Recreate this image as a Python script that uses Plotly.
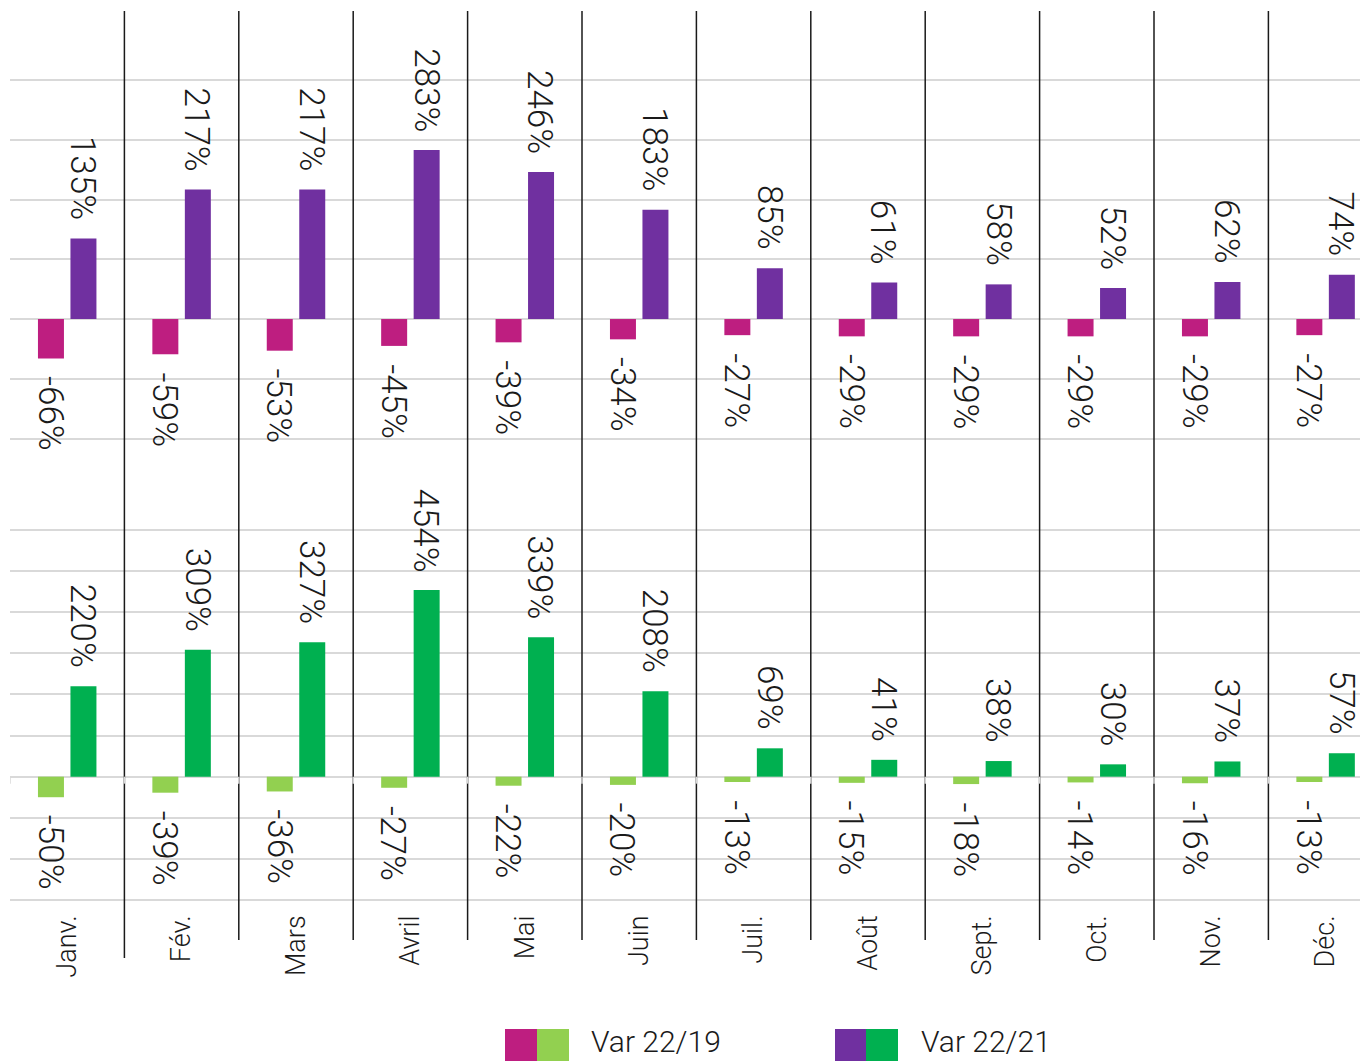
import plotly.graph_objects as go

# ---------------- data ----------------
months = ["Janv.", "Fév.", "Mars", "Avril", "Mai", "Juin",
          "Juil.", "Août", "Sept.", "Oct.", "Nov.", "Déc."]
top_var_22_19 = [-66, -59, -53, -45, -39, -34, -27, -29, -29, -29, -29, -27]
top_var_22_21 = [135, 217, 217, 283, 246, 183, 85, 61, 58, 52, 62, 74]
bottom_var_22_19 = [-50, -39, -36, -27, -22, -20, -13, -15, -18, -14, -16, -13]
bottom_var_22_21 = [220, 309, 327, 454, 339, 208, 69, 41, 38, 30, 37, 57]
top_gridlines = [-200, -100, 0, 100, 200, 300, 400]
bottom_gridlines = [-300, -200, -100, 0, 100, 200, 300, 400, 500, 600]
legend_labels = ["Var 22/19", "Var 22/21"]

# ---------------- style ----------------
MAGENTA = "#BE1E80"
PURPLE = "#7030A0"
LIGHT_GREEN = "#92D050"
GREEN = "#00B050"
GRID = "#d9d9d9"
TEXT = "#1a1a1a"
FONT = "Roboto, Noto Sans, sans-serif"
W, H = 1368, 1061
OFF = 8            # page body margin offset in the browser
L_MARGIN = 10 - OFF
CAT_W = 114.4      # px per category


def py(pixel_y):
    """Screen pixel y -> paper y."""
    return 1 - (pixel_y - OFF) / H


def px(pixel_x):
    """Screen pixel x -> paper x."""
    return (pixel_x - OFF - L_MARGIN) / (W - L_MARGIN)


fig = go.Figure()

panels = [
    ("x", "y", top_var_22_19, top_var_22_21, MAGENTA, PURPLE),
    ("x2", "y2", bottom_var_22_19, bottom_var_22_21, LIGHT_GREEN, GREEN),
]
for xa, ya, s19, s21, c19, c21 in panels:
    fig.add_trace(go.Bar(x=months, y=s19, xaxis=xa, yaxis=ya, name=legend_labels[0],
                         marker=dict(color=c19, line=dict(width=0))))
    fig.add_trace(go.Bar(x=months, y=s21, xaxis=xa, yaxis=ya, name=legend_labels[1],
                         marker=dict(color=c21, line=dict(width=0))))

# value labels (rotated)
annotations = []
BAR_OFFSET = 16.25
for xa, ya, s19, s21, _, _ in panels:
    for series, shift in ((s19, -BAR_OFFSET), (s21, BAR_OFFSET)):
        for m, v in zip(months, series):
            annotations.append(dict(
                x=m, y=v, xref=xa, yref=ya, text=f"{v}%", showarrow=False,
                textangle=90, xshift=shift - 1,
                yanchor="bottom" if v >= 0 else "top",
                yshift=16 if v >= 0 else -16,
                font=dict(family=FONT, size=35, color=TEXT, weight=300),
            ))

# legend (two-colour swatches)
shapes = []
legend_items = [
    (legend_labels[0], MAGENTA, LIGHT_GREEN, 505, 537, 569, 589),
    (legend_labels[1], PURPLE, GREEN, 835, 866, 898, 919),
]
for label, c1, c2, xa0, xa1, xa2, xt in legend_items:
    shapes.append(dict(type="rect", xref="paper", yref="paper",
                       x0=px(xa0), x1=px(xa1), y0=-0.02, y1=py(1029),
                       fillcolor=c1, line=dict(width=0)))
    shapes.append(dict(type="rect", xref="paper", yref="paper",
                       x0=px(xa1), x1=px(xa2), y0=-0.02, y1=py(1029),
                       fillcolor=c2, line=dict(width=0)))
    annotations.append(dict(x=px(xt), y=py(1061), xref="paper", yref="paper",
                            text=label, showarrow=False, xanchor="left", yanchor="bottom",
                            font=dict(family=FONT, size=30, color=TEXT, weight=300)))

# month separators
for k in range(len(months) - 1):
    shapes.append(dict(type="line", xref="x", yref="paper",
                       x0=k + 0.5, x1=k + 0.5,
                       y0=py(958) if k == 0 else py(940), y1=py(11),
                       line=dict(color=TEXT, width=1.5)))

# small tick marks on bottom zero line
for k in range(len(months) + 1):
    shapes.append(dict(type="line", xref="x2", yref="y2",
                       x0=k - 0.5, x1=k - 0.5, y0=0, y1=-17,
                       line=dict(color=GRID, width=1.5)))

x_range = [-0.5, -0.5 + (W - L_MARGIN) / CAT_W]
fig.update_layout(
    width=W, height=H,
    margin=dict(l=L_MARGIN, r=0, t=0, b=0),
    plot_bgcolor="white", paper_bgcolor="white",
    barmode="group", bargap=0.432, bargroupgap=0.2,
    showlegend=False,
    font=dict(family=FONT, color=TEXT),
    xaxis=dict(domain=[0, 1], range=x_range, anchor="y", showticklabels=False,
               showgrid=False, zeroline=False, showline=False, ticks=""),
    xaxis2=dict(domain=[0, 1], range=x_range, anchor="y2", showgrid=False,
                zeroline=False, showline=False, ticks="", tickangle=-90,
                tickfont=dict(family=FONT, size=27, color=TEXT, weight=300),
                ticklabelstandoff=4),
    yaxis=dict(domain=[py(460), py(12)], range=[-236, 514], tickvals=top_gridlines,
               showticklabels=False, showgrid=True, gridcolor=GRID, gridwidth=1.5,
               zeroline=False, showline=False),
    yaxis2=dict(domain=[py(905), py(500)], range=[-312.2, 673.1], tickvals=bottom_gridlines,
                showticklabels=False, showgrid=True, gridcolor=GRID, gridwidth=1.5,
                zeroline=False, showline=False),
    annotations=annotations,
    shapes=shapes,
)

fig.write_html("out.html")
